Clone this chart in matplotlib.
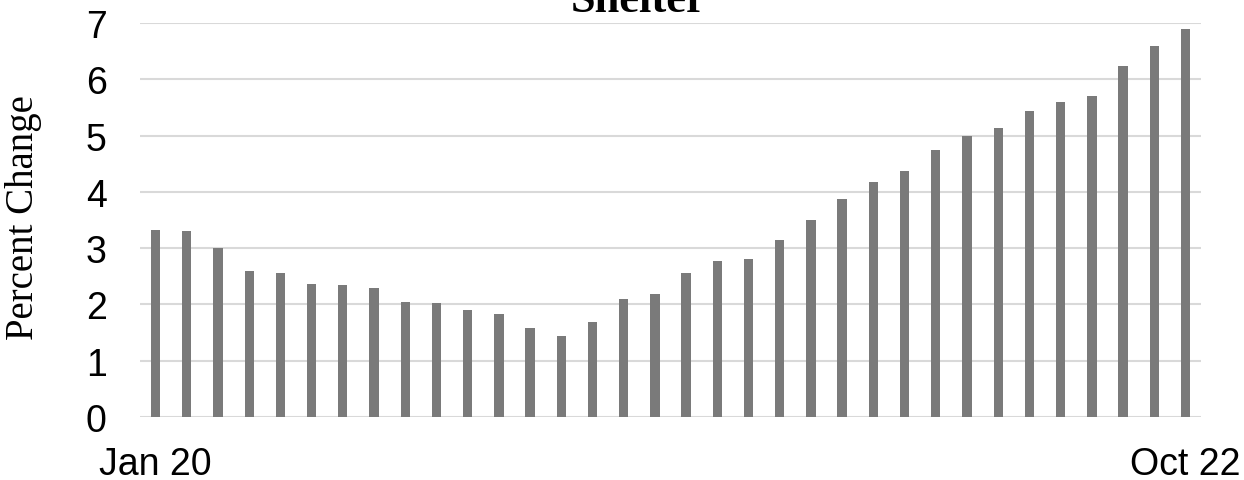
import matplotlib.pyplot as plt

months = ["Jan 20", "Feb 20", "Mar 20", "Apr 20", "May 20", "Jun 20", "Jul 20", "Aug 20",
          "Sep 20", "Oct 20", "Nov 20", "Dec 20", "Jan 21", "Feb 21", "Mar 21", "Apr 21",
          "May 21", "Jun 21", "Jul 21", "Aug 21", "Sep 21", "Oct 21", "Nov 21", "Dec 21",
          "Jan 22", "Feb 22", "Mar 22", "Apr 22", "May 22", "Jun 22", "Jul 22", "Aug 22",
          "Sep 22", "Oct 22"]
pct_change = [3.32, 3.30, 3.00, 2.60, 2.55, 2.36, 2.34, 2.29, 2.04, 2.02, 1.90, 1.83,
              1.58, 1.44, 1.69, 2.10, 2.19, 2.55, 2.77, 2.81, 3.14, 3.50, 3.87, 4.17,
              4.37, 4.74, 4.99, 5.13, 5.43, 5.60, 5.71, 6.24, 6.59, 6.89]
shown_labels = ["Jan 20", "Oct 22"]

fig = plt.figure(figsize=(12.44, 4.81), dpi=100)
ax = fig.add_axes([0.1125, 0.131, 0.853, 0.819])

x = list(range(len(months)))
ax.bar(x, pct_change, width=0.3, color="#7a7a7a", zorder=3)

ax.set_xlim(-0.5, len(months) - 0.5)
ax.set_ylim(0, 7)
ax.set_yticks(range(0, 8))
ax.grid(axis="y", color="#d9d9d9", linewidth=1.5, zorder=0)
ax.set_axisbelow(True)
for s in ax.spines.values():
    s.set_visible(False)

ticks = [months.index(m) for m in shown_labels]
ax.set_xticks(ticks)
ax.set_xticklabels(shown_labels)
ax.tick_params(axis="both", length=0, labelsize=27, labelcolor="black")
ax.tick_params(axis="y", pad=24)
ax.tick_params(axis="x", pad=21)
for lbl in ax.get_xticklabels() + ax.get_yticklabels():
    lbl.set_fontfamily("Liberation Sans")

ax.set_ylabel("Percent Change", fontsize=28, fontfamily="Liberation Serif")
ax.yaxis.set_label_coords(-0.092, 0.51)

fig.text(0.513, 0.975, "Shelter", ha="center", va="baseline", fontsize=32,
         fontweight="bold", fontfamily="Liberation Serif")

fig.savefig("out.png", dpi=100)
